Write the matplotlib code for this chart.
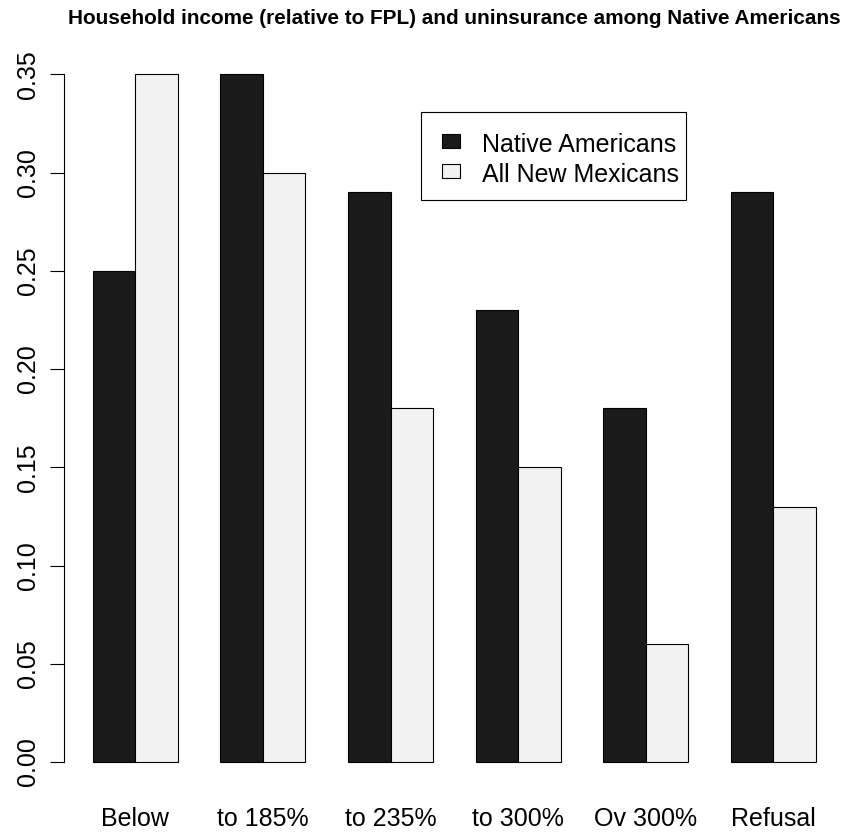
import numpy as np
import matplotlib
matplotlib.use("Agg")
import matplotlib.pyplot as plt
from matplotlib.patches import Rectangle

# data
categories = ["Below", "to 185%", "to 235%", "to 300%", "Ov 300%", "Refusal"]
native_americans = [0.25, 0.35, 0.29, 0.23, 0.18, 0.29]
all_new_mexicans = [0.35, 0.30, 0.18, 0.15, 0.06, 0.13]
series_names = ["Native Americans", "All New Mexicans"]
yticks = [0.00, 0.05, 0.10, 0.15, 0.20, 0.25, 0.30, 0.35]

dark = "#1a1a1a"
light = "#f2f2f2"

plt.rcParams["font.family"] = ["Liberation Sans", "DejaVu Sans"]

W, H = 846, 832
fig = plt.figure(figsize=(W / 100, H / 100), dpi=100)

# plot region in pixels (R-style barplot layout)
left, right, top, bottom = 64.0, 844.6, 46.8, 789.5
ax = fig.add_axes([left / W, 1 - bottom / H, (right - left) / W, (bottom - top) / H])

# beside=TRUE layout: each group is 2 bars + 1 gap
idx = np.arange(len(categories))
x_dark = 1.5 + 3 * idx
x_light = 2.5 + 3 * idx
ax.bar(x_dark, native_americans, width=1.0, color=dark, edgecolor="black", linewidth=0.8)
ax.bar(x_light, all_new_mexicans, width=1.0, color=light, edgecolor="black", linewidth=0.8)

ax.set_xlim(0.32, 18.68)
ax.set_ylim(-0.014, 0.364)

for s in ["top", "right", "bottom"]:
    ax.spines[s].set_visible(False)
ax.spines["left"].set_bounds(0, 0.35)
ax.spines["left"].set_linewidth(0.8)

ax.set_yticks(yticks)
ax.set_yticklabels(["%.2f" % v for v in yticks], rotation=90, va="center", fontsize=18)
ax.tick_params(axis="y", direction="out", length=10, width=0.8, pad=7)

ax.set_xticks(2 + 3 * idx)
ax.set_xticklabels(categories, fontsize=18)
ax.tick_params(axis="x", length=0, pad=12.5)

# title, centred on the plot region and scaled to the reference width
title = fig.text((left + right) / 2 / W, 1 - 24 / H,
                 "Household income (relative to FPL) and uninsurance among Native Americans",
                 ha="center", va="baseline", fontweight="bold", fontsize=12)
r = fig.canvas.get_renderer()
tw = title.get_window_extent(r).width
title.set_fontsize(12 * 768 / tw)


# legend drawn by hand in pixel coordinates
def fx(x):
    return x / W


def fy(y):
    return 1 - y / H


fig.patches.append(Rectangle((fx(420.7), fy(200)), (685.7 - 420.7) / W, (200 - 112.3) / H,
                             transform=fig.transFigure, facecolor="white",
                             edgecolor="black", linewidth=0.8))
for i, (name, c) in enumerate(zip(series_names, [dark, light])):
    yc = 141.3 + 30 * i
    fig.patches.append(Rectangle((fx(441.7), fy(yc + 7)), 18.3 / W, 14 / H,
                                 transform=fig.transFigure, facecolor=c,
                                 edgecolor="black", linewidth=0.8))
    fig.text(fx(481.7), fy(yc + 11), name, fontsize=18, va="baseline", ha="left")

fig.savefig("out.png", dpi=100)
